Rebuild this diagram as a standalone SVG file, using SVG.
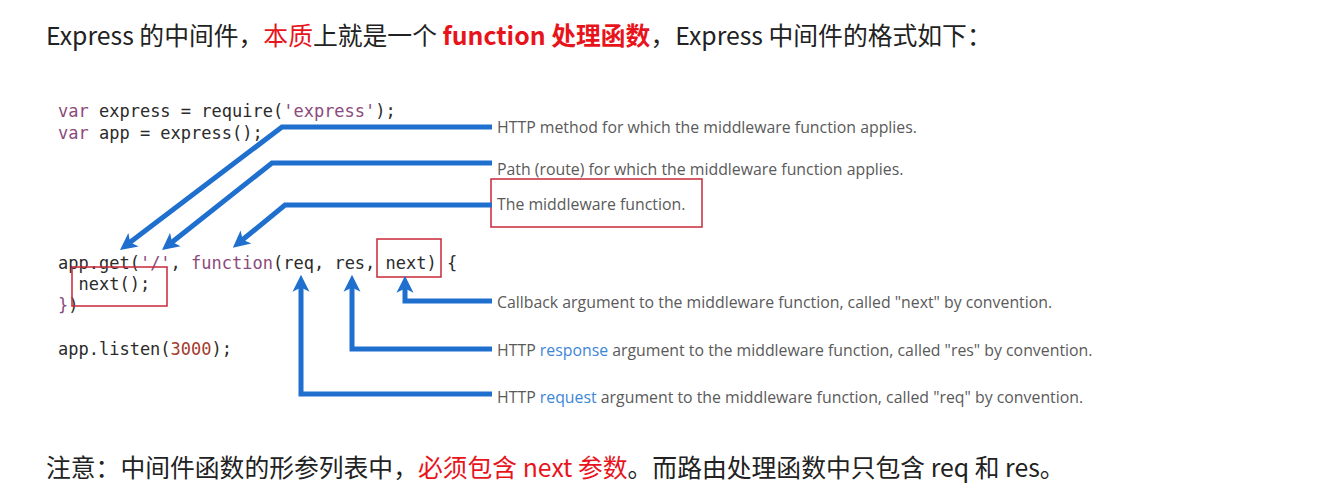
<svg xmlns="http://www.w3.org/2000/svg" width="1320" height="503" viewBox="0 0 1320 503">
<defs>
<style>
.cn{font-family:"Noto Sans CJK SC","Microsoft YaHei",sans-serif;font-size:24.8px;fill:#222}
.red{fill:#e8141c}
.b{font-weight:bold}
.code{font-family:"DejaVu Sans Mono","Liberation Mono",monospace;font-size:17px;fill:#2b2b2b;white-space:pre}
.kw{fill:#8c4a7d}
.num{fill:#a33b2c}
.lbl{font-family:"Open Sans","Noto Sans",sans-serif;font-size:15.85px;fill:#5a5a5a}
.lk{fill:#3d86d6}
.arr{fill:none;stroke:#1f6fcf;stroke-width:5;stroke-linejoin:miter}
.box{fill:none;stroke:#c8283a;stroke-width:1.5}
</style>
<marker id="ah" viewBox="0 0 10 10" refX="4" refY="5" markerWidth="17" markerHeight="20" markerUnits="userSpaceOnUse" orient="auto">
<path d="M0,0 L10,5 L0,10 L2.5,5 z" fill="#1f6fcf"/>
</marker>
</defs>
<rect width="1320" height="503" fill="#ffffff"/>

<g id="title">
<text class="cn" x="46" y="45">Express 的中间件，<tspan class="red">本质</tspan>上就是一个 <tspan class="red b">function 处理函数</tspan>，Express 中间件的格式如下：</text>
</g>

<g id="code">
<text class="code" x="58" y="117"><tspan class="kw">var</tspan> express = require(<tspan class="kw">'express'</tspan>);</text>
<text class="code" x="58" y="139"><tspan class="kw">var</tspan> app = express();</text>
<text class="code" x="58" y="269">app.get(<tspan class="kw">'/'</tspan>, <tspan class="kw">function</tspan>(req, res, next) {</text>
<text class="code" x="78.5" y="290">next();</text>
<text class="code" x="58" y="311"><tspan class="kw">}</tspan>)</text>
<text class="code" x="58" y="355">app.listen(<tspan class="num">3000</tspan>);</text>
</g>

<g id="boxes">
<rect class="box" x="491" y="179" width="211" height="48"/>
<rect class="box" x="377" y="239" width="64" height="38"/>
<rect class="box" x="72" y="267" width="95" height="39"/>
</g>

<g id="labels">
<text class="lbl" x="497" y="133">HTTP method for which the middleware function applies.</text>
<text class="lbl" x="497" y="175">Path (route) for which the middleware function applies.</text>
<text class="lbl" x="497" y="210">The middleware function.</text>
<text class="lbl" x="497" y="308">Callback argument to the middleware function, called "next" by convention.</text>
<text class="lbl" x="497" y="356">HTTP <tspan class="lk">response</tspan> argument to the middleware function, called "res" by convention.</text>
<text class="lbl" x="497" y="403">HTTP <tspan class="lk">request</tspan> argument to the middleware function, called "req" by convention.</text>
</g>

<g id="connectors">
<path class="arr" d="M492,127 H282 L128.1,243.8" marker-end="url(#ah)"/>
<path class="arr" d="M492,163 H272 L170,243.7" marker-end="url(#ah)"/>
<path class="arr" d="M492,205 H285 L240.7,241.3" marker-end="url(#ah)"/>
<path class="arr" d="M492,301 H405 V286" marker-end="url(#ah)"/>
<path class="arr" d="M492,349 H352 V285" marker-end="url(#ah)"/>
<path class="arr" d="M492,394 H301 V285" marker-end="url(#ah)"/>
</g>

<g id="note">
<text class="cn" x="46" y="477">注意：中间件函数的形参列表中，<tspan class="red">必须包含 next 参数</tspan>。而路由处理函数中只包含 req 和 res。</text>
</g>
</svg>
